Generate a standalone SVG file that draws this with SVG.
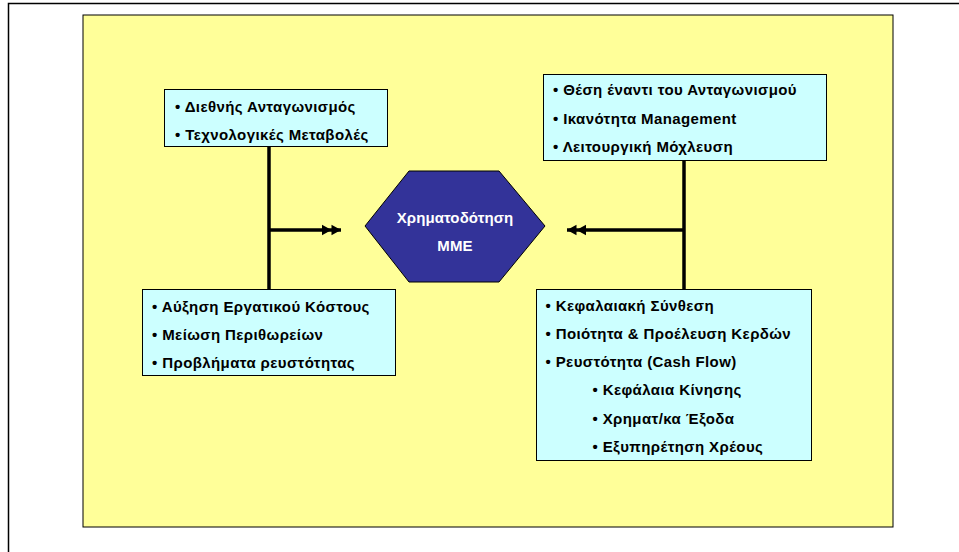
<svg xmlns="http://www.w3.org/2000/svg" width="959" height="552" viewBox="0 0 959 552">
<style>
.box{fill:#CCFFFF;stroke:#000;stroke-width:1}
.t{font-family:"Liberation Sans",Arial,sans-serif;font-weight:bold;font-size:15px;letter-spacing:0.4px;fill:#000}
.w{font-family:"Liberation Sans",Arial,sans-serif;font-weight:bold;font-size:15px;letter-spacing:0.1px;fill:#fff;text-anchor:middle}
.ln{stroke:#000;stroke-width:3.5;fill:none}
</style>
<defs>
<marker id="dbl" viewBox="-19 -6 20 12" refX="0" refY="0" markerWidth="20" markerHeight="12" markerUnits="userSpaceOnUse" orient="auto">
<path d="M0,0 L-9.5,-5.3 L-9.5,5.3 Z M-9.5,0 L-19,-5.3 L-19,5.3 Z" fill="#000"/>
</marker>
</defs>
<rect x="8.5" y="3.5" width="960" height="560" fill="#fff" stroke="#000" stroke-width="1.5"/>
<rect id="background" x="83" y="15" width="810" height="512" fill="#FFFF99" stroke="#000" stroke-width="1"/>
<g id="connectors">
<line class="ln" x1="269" y1="147" x2="269" y2="289"/>
<line class="ln" x1="269" y1="230" x2="341" y2="230" marker-end="url(#dbl)"/>
<line class="ln" x1="684" y1="161" x2="684" y2="289"/>
<line class="ln" x1="684" y1="230" x2="567" y2="230" marker-end="url(#dbl)"/>
</g>
<g id="hub">
<polygon points="365,226 409,171 499,171 545,226 499,282 409,282" fill="#333399" stroke="#000" stroke-width="1"/>
<text class="w" x="455" y="223">Χρηματοδότηση</text>
<text class="w" x="455" y="251">MME</text>
</g>
<g id="top-left">
<rect class="box" x="164.5" y="89.5" width="223" height="57"/>
<text class="t" x="175" y="111.5">• Διεθνής Ανταγωνισμός</text>
<text class="t" x="175" y="140">• Τεχνολογικές Μεταβολές</text>
</g>
<g id="top-right">
<rect class="box" x="543.5" y="74.5" width="283" height="86"/>
<text class="t" x="553" y="95">• Θέση έναντι του Ανταγωνισμού</text>
<text class="t" x="553" y="123.8">• Ικανότητα Management</text>
<text class="t" x="553" y="152.2">• Λειτουργική Μόχλευση</text>
</g>
<g id="bottom-left">
<rect class="box" x="142.5" y="289.5" width="253" height="86"/>
<text class="t" x="152" y="311.5">• Αύξηση Εργατικού Κόστους</text>
<text class="t" x="152" y="339.5">• Μείωση Περιθωρείων</text>
<text class="t" x="152" y="367.8">• Προβλήματα ρευστότητας</text>
</g>
<g id="bottom-right">
<rect class="box" x="536.5" y="289.5" width="275" height="171"/>
<text class="t" x="545.5" y="310.8">• Κεφαλαιακή Σύνθεση</text>
<text class="t" x="545.5" y="338.8">• Ποιότητα &amp; Προέλευση Κερδών</text>
<text class="t" x="545.5" y="366.8">• Ρευστότητα (Cash Flow)</text>
<text class="t" x="592.5" y="394.8">• Κεφάλαια Κίνησης</text>
<text class="t" x="592.5" y="423.8">• Χρηματ/κα Έξοδα</text>
<text class="t" x="592.5" y="452.2">• Εξυπηρέτηση Χρέους</text>
</g>
</svg>
